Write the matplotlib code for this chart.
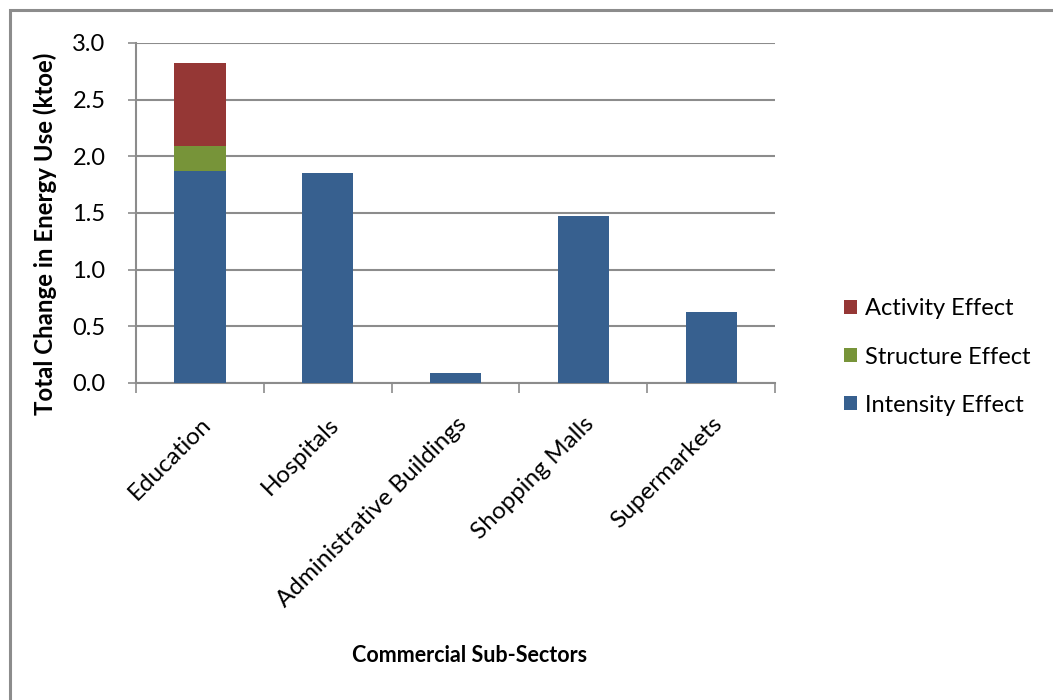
import matplotlib.pyplot as plt
import numpy as np
from matplotlib.patches import Rectangle

plt.rcParams['font.family'] = ['Lato', 'DejaVu Sans']

# change in energy use by sub-sector, ktoe
sectors = ["Education", "Hospitals", "Administrative Buildings", "Shopping Malls", "Supermarkets"]
intensity = [1.87, 1.85, 0.09, 1.47, 0.63]
structure = [0.22, 0.0, 0.0, 0.0, 0.0]
activity = [0.73, 0.0, 0.0, 0.0, 0.0]
yticks = [0.0, 0.5, 1.0, 1.5, 2.0, 2.5, 3.0]

blue = "#37608f"
green = "#779439"
red = "#953735"
grid_col = "#8c8c8c"

fig = plt.figure(figsize=(10.53, 7.0), dpi=100)
fig.patch.set_facecolor("white")
ax = fig.add_axes([0.1292, 0.4529, 0.6068, 0.4857])

x = np.arange(len(sectors))
w = 0.4
b1 = ax.bar(x, intensity, w, color=blue, label="Intensity Effect", zorder=3)
bottom2 = np.array(intensity)
b2 = ax.bar(x, structure, w, bottom=bottom2, color=green, label="Structure Effect", zorder=3)
bottom3 = bottom2 + np.array(structure)
b3 = ax.bar(x, activity, w, bottom=bottom3, color=red, label="Activity Effect", zorder=3)

ax.set_ylim(0, 3.0)
ax.set_xlim(-0.5, len(sectors) - 0.5)
ax.set_yticks(yticks)
ax.set_yticklabels([f"{v:.1f}" for v in yticks], fontsize=17)
ax.yaxis.grid(True, color=grid_col, linewidth=1.5, zorder=0)
ax.tick_params(axis="y", direction="out", length=6, color=grid_col, width=1.2, pad=16)

# category boundary ticks with labels in between
ax.set_xticks(np.arange(-0.5, len(sectors), 1.0))
ax.set_xticklabels([])
ax.set_xticks(x, minor=True)
ax.set_xticklabels(sectors, minor=True, rotation=45, ha="right", va="top",
                   rotation_mode="anchor", fontsize=17.5)
ax.tick_params(axis="x", which="major", direction="out", length=7, color=grid_col, width=1.2)
ax.tick_params(axis="x", which="minor", length=0, pad=22)

for side in ["top", "right"]:
    ax.spines[side].set_visible(False)
for side in ["left", "bottom"]:
    ax.spines[side].set_color(grid_col)
    ax.spines[side].set_linewidth(1.5)

fig.text(0.043, 0.666, "Total Change in Energy Use (ktoe)", rotation=90,
         ha="center", va="center", fontsize=17.3, fontweight="bold")
fig.text(0.446, 0.064, "Commercial Sub-Sectors", ha="center", va="center",
         fontsize=15.5, fontweight="bold")

leg = fig.legend(handles=[b3, b2, b1], loc="center left",
                 bbox_to_anchor=(0.781, 0.49), frameon=False, fontsize=17,
                 handlelength=0.55, handleheight=0.55, handletextpad=0.35,
                 labelspacing=1.15)

# outer frame of the chart
fig.add_artist(Rectangle((10 / 1053, -0.1), 1.2, (690 / 700) + 0.1,
                         transform=fig.transFigure, fill=False,
                         edgecolor=grid_col, linewidth=2.2))

fig.savefig("out.png", dpi=100, facecolor="white")
